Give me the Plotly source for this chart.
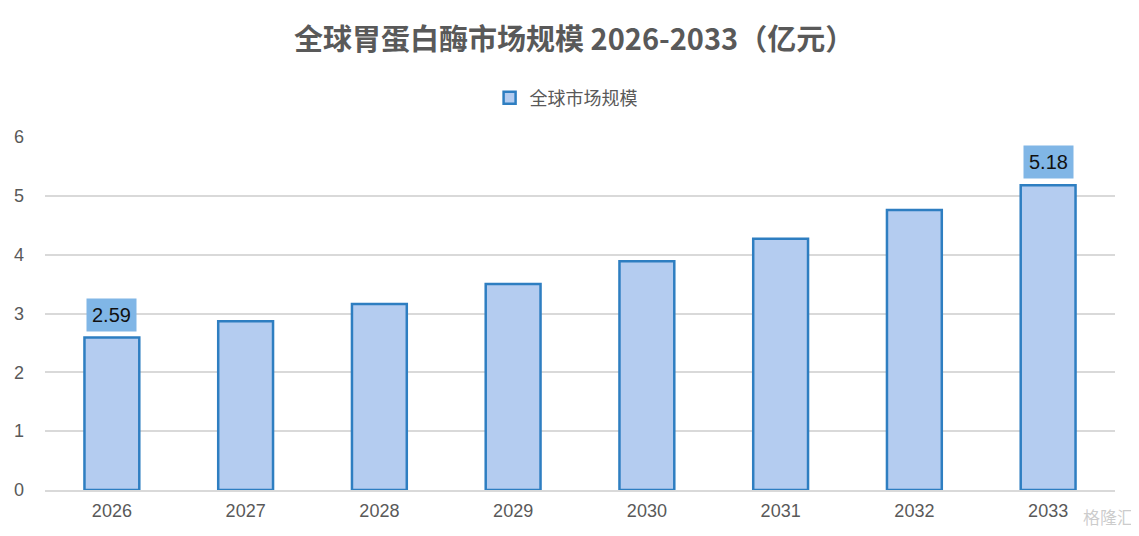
import plotly.graph_objects as go

# --- Daten ---
years = ["2026", "2027", "2028", "2029", "2030", "2031", "2032", "2033"]
market_size = [2.59, 2.87, 3.16, 3.50, 3.89, 4.27, 4.76, 5.18]
labeled_idx = [0, 7]  # nur erster und letzter Wert beschriftet

FONT = "Arial, 'Liberation Sans', 'Noto Sans CJK SC', sans-serif"
GRAY = "#595959"

fig = go.Figure()
fig.add_trace(go.Bar(
    x=years, y=market_size, name="全球市场规模",
    width=0.41,
    marker=dict(color="#B4CCF0", line=dict(color="#2E7EC1", width=2.5)),
    hoverinfo="x+y",
))

for i in labeled_idx:
    # Kategorie-Achse: Index als Position
    fig.add_annotation(
        x=i, y=market_size[i], yshift=23,
        text=f"{market_size[i]:.2f}", showarrow=False,
        font=dict(family=FONT, size=20, color="#111111"),
        bgcolor="#80B6E6", borderpad=5,
    )

# Wasserzeichen
fig.add_annotation(
    xref="paper", yref="paper", x=1.02, y=-0.115, xanchor="right",
    text="格隆汇", showarrow=False,
    font=dict(family="'Noto Sans CJK SC'", size=17, color="rgba(170,170,170,0.6)"),
)

fig.update_layout(
    width=1139, height=536,
    paper_bgcolor="white", plot_bgcolor="white",
    margin=dict(l=37, r=32, t=129, b=54),
    title=dict(
        text="<b>全球胃蛋白酶市场规模 2026-2033（亿元）</b>",
        x=0.497, xanchor="center", y=0.94, yanchor="middle",
        font=dict(family="'Noto Sans CJK SC', Arial, sans-serif", size=29, color=GRAY),
    ),
    legend=dict(
        orientation="h", x=0.487, xanchor="center", y=1.11, yanchor="middle",
        itemwidth=30,
        font=dict(family="'Noto Sans CJK SC', sans-serif", size=18, color=GRAY),
    ),
    showlegend=True,
)
fig.update_xaxes(
    type="category", range=[-0.5, len(years) - 0.5], automargin=False,
    showgrid=False, showline=True, linecolor="#D9D9D9", linewidth=1.5,
    tickfont=dict(family=FONT, size=18, color=GRAY), ticks="", ticklabelstandoff=4,
)
fig.update_yaxes(
    range=[0, 6], dtick=1, showgrid=True, gridcolor="#D9D9D9", gridwidth=1.5,
    zeroline=False, showline=False, ticks="", ticklabelstandoff=20, automargin=False,
    tickfont=dict(family=FONT, size=18, color=GRAY),
)

fig.write_html("out.html")
